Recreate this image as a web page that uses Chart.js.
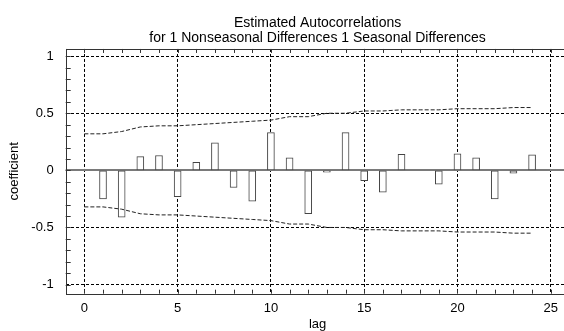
<!DOCTYPE html>
<html>
<head>
<meta charset="utf-8">
<script src="https://cdn.jsdelivr.net/npm/chart.js@4/dist/chart.umd.min.js"></script>
<style>
  html, body { margin: 0; padding: 0; background: #fff; overflow: hidden; }
  #chart { display: block; }
</style>
</head>
<body>
<canvas id="chart" width="574" height="336"></canvas>
<script>
// autocorrelation per lag
const lags = [1, 2, 3, 4, 5, 6, 7, 8, 9, 10, 11, 12, 13, 14, 15, 16, 17, 18, 19, 20, 21, 22, 23, 24];
const acf = [-0.25, -0.41, 0.12, 0.13, -0.23, 0.07, 0.24, -0.15, -0.27, 0.33, 0.11, -0.38,
             -0.015, 0.33, -0.09, -0.19, 0.14, 0, -0.12, 0.145, 0.11, -0.25, -0.025, 0.135];

// confidence limits (dashed lines)
const bandLags = [0, 1, 2, 3, 4, 5, 6, 7, 8, 9, 10, 11, 12, 13, 14, 15, 16, 17, 18, 19, 20, 21, 22, 23, 24];
const upperBand = [0.32, 0.32, 0.34, 0.38, 0.39, 0.39, 0.40, 0.41, 0.42, 0.43, 0.44, 0.47, 0.47,
                   0.50, 0.50, 0.52, 0.52, 0.53, 0.53, 0.53, 0.54, 0.54, 0.54, 0.55, 0.55];
const lowerBand = [-0.32, -0.32, -0.34, -0.38, -0.39, -0.39, -0.40, -0.41, -0.42, -0.43, -0.44, -0.47, -0.47,
                   -0.50, -0.50, -0.52, -0.52, -0.53, -0.53, -0.53, -0.54, -0.54, -0.54, -0.55, -0.55];

const titleLines = ["Estimated Autocorrelations", "for 1 Nonseasonal Differences 1 Seasonal Differences"];
const FONT = "'Liberation Sans', Arial, sans-serif";

function points(xs, ys) {
  return xs.map((x, i) => ({x: x, y: ys[i]}));
}

// frame, zero line and the small inward ticks on all four sides
const framePlugin = {
  id: "frame",
  beforeDatasetsDraw(chart) {
    const {ctx, chartArea: a, scales: {y}} = chart;
    const y0 = Math.round(y.getPixelForValue(0));
    ctx.save();
    ctx.strokeStyle = "#7a7a7a";
    ctx.lineWidth = 2;
    ctx.beginPath();
    ctx.moveTo(a.left, y0);
    ctx.lineTo(a.right, y0);
    ctx.stroke();
    ctx.restore();
  },
  afterDatasetsDraw(chart) {
    const {ctx, chartArea: a, scales: {x, y}} = chart;
    ctx.save();
    ctx.strokeStyle = "#333";
    ctx.lineWidth = 1;
    ctx.beginPath();
    for (let v = Math.ceil(x.min); v <= Math.floor(x.max); v++) {
      const px = Math.round(x.getPixelForValue(v)) + 0.5;
      ctx.moveTo(px, a.bottom);
      ctx.lineTo(px, a.bottom - 4);
      ctx.moveTo(px, a.top);
      ctx.lineTo(px, a.top + 4);
    }
    for (let i = -10; i <= 10; i++) {
      const py = Math.round(y.getPixelForValue(i / 10)) + 0.5;
      ctx.moveTo(a.left, py);
      ctx.lineTo(a.left + 5, py);
      ctx.moveTo(a.right, py);
      ctx.lineTo(a.right - 5, py);
    }
    ctx.stroke();
    ctx.strokeRect(Math.round(a.left) + 0.5, Math.round(a.top) + 0.5,
                   Math.round(a.right - a.left), Math.round(a.bottom - a.top));
    ctx.restore();
  }
};

const ctx = document.getElementById("chart").getContext("2d");
new Chart(ctx, {
  type: "bar",
  data: {
    datasets: [
      {
        type: "bar",
        data: points(lags, acf),
        backgroundColor: "#ffffff",
        borderColor: "#444",
        borderWidth: 1,
        borderSkipped: false,
        barThickness: 7,
        order: 1
      },
      {
        type: "line",
        data: points(bandLags, upperBand),
        borderColor: "#222",
        borderWidth: 1,
        borderDash: [4, 2],
        pointRadius: 0,
        tension: 0,
        fill: false,
        order: 0
      },
      {
        type: "line",
        data: points(bandLags, lowerBand),
        borderColor: "#222",
        borderWidth: 1,
        borderDash: [4, 2],
        pointRadius: 0,
        tension: 0,
        fill: false,
        order: 0
      }
    ]
  },
  options: {
    responsive: false,
    animation: false,
    events: [],
    layout: { padding: { left: 0, right: 4.6, top: 0, bottom: 0 } },
    scales: {
      x: {
        type: "linear",
        min: -1,
        max: 26,
        offset: false,
        afterFit: function(scale) { scale.height = 42.3; },
        ticks: {
          stepSize: 5,
          includeBounds: false,
          padding: 7,
          maxRotation: 0,
          color: "#000",
          font: { family: FONT, size: 13 }
        },
        grid: {
          offset: false,
          color: "#000",
          lineWidth: 1,
          drawTicks: false
        },
        border: { display: false, dash: [3, 2] },
        title: {
          display: true,
          text: "lag",
          color: "#000",
          font: { family: FONT, size: 13 },
          padding: { top: 0, bottom: 4 }
        }
      },
      y: {
        min: -1.08,
        max: 1.063,
        afterFit: function(scale) { scale.width = 65.7; },
        ticks: {
          stepSize: 0.5,
          includeBounds: false,
          padding: 12,
          color: "#000",
          font: { family: FONT, size: 13 },
          callback: function(value) { return String(value); }
        },
        grid: {
          color: "#000",
          lineWidth: 1,
          drawTicks: false
        },
        border: { display: false, dash: [3, 2] },
        title: {
          display: true,
          text: "coefficient",
          color: "#000",
          font: { family: FONT, size: 13 },
          padding: { top: 7, bottom: 0 }
        }
      }
    },
    plugins: {
      legend: { display: false },
      tooltip: { enabled: false },
      title: {
        display: true,
        fullSize: false,
        text: titleLines,
        color: "#000",
        font: { family: FONT, size: 14, weight: "normal", lineHeight: 1.07 },
        padding: { top: 15.7, bottom: 3.3 }
      }
    }
  },
  plugins: [framePlugin]
});
</script>
</body>
</html>
